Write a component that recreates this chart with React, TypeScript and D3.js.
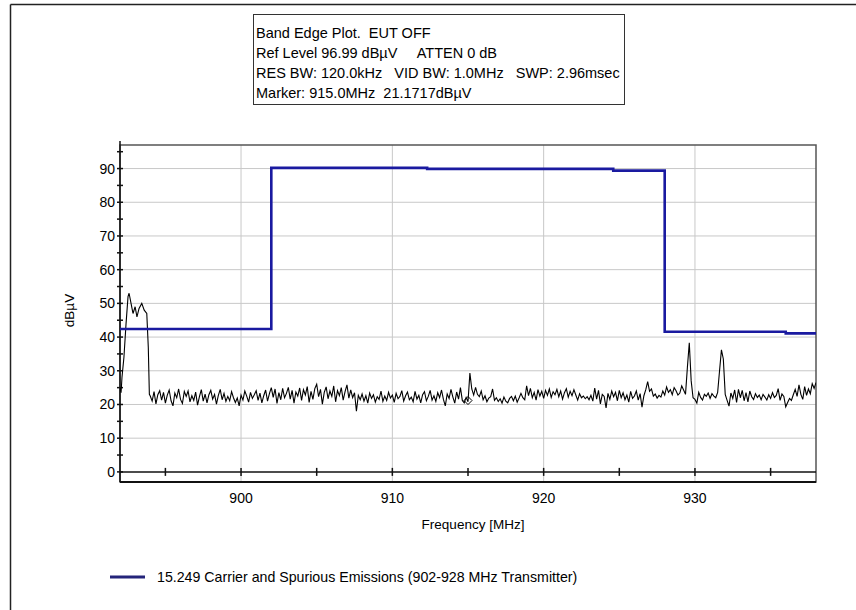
import React from 'react';
import * as d3 from 'd3';

const infoLines = [
  'Band Edge Plot.  EUT OFF',
  'Ref Level 96.99 dBµV     ATTEN 0 dB',
  'RES BW: 120.0kHz   VID BW: 1.0MHz   SWP: 2.96msec',
  'Marker: 915.0MHz  21.1717dBµV',
];

const xLabels = [900, 910, 920, 930];
const xMinor = [895, 900, 905, 910, 915, 920, 925, 930, 935];
const yLabels = [0, 10, 20, 30, 40, 50, 60, 70, 80, 90];
const yMinor = [5, 10, 15, 20, 25, 30, 35, 40, 45, 50, 55, 60, 65, 70, 75, 80, 85, 90, 95];

// limit line (step after each breakpoint)
const limitFreqs = [892, 902, 912.3, 924.6, 928, 936, 938];
const limitLevels = [42.4, 90.2, 89.9, 89.4, 41.6, 41.1, 41.1];

// start of sweep, carrier leftover below the band
const headFreqs = [892.0, 892.07, 892.13, 892.26, 892.4, 892.53, 892.6, 892.73, 892.86, 893.0, 893.12, 893.26, 893.44, 893.6, 893.77, 893.87, 893.94];
const headLevels = [25, 23.5, 28, 34, 44, 52, 53, 50, 47, 49, 46, 48.5, 50, 48, 47, 37, 23];

// rest of the sweep, one value every 0.125 MHz from 894.0
const sweepStart = 894.0;
const sweepStep = 0.125;
const sweepLevels = [
  22.5, 21.0, 23.8, 20.2, 22.9, 24.1, 21.3, 23.6, // 894
  20.4, 22.8, 24.3, 21.1, 19.6, 23.4, 22.0, 24.6, // 895
  21.5, 20.3, 23.9, 22.4, 24.0, 20.8, 22.6, 21.2, // 896
  23.7, 19.8, 22.3, 24.4, 21.0, 23.1, 20.5, 22.9, // 897
  24.2, 21.6, 23.0, 20.1, 22.7, 24.5, 21.4, 23.3, // 898
  20.9, 22.4, 21.1, 23.8, 22.0, 20.6, 21.9, 19.6, // 899
  22.8, 21.3, 24.0, 22.5, 20.7, 23.6, 21.8, 22.9, // 900
  24.1, 21.2, 23.4, 20.5, 22.6, 24.3, 21.0, 23.2, // 901
  25.0, 22.1, 24.6, 20.3, 23.5, 21.4, 24.8, 22.0, // 902
  23.3, 25.1, 21.6, 24.2, 20.4, 23.7, 22.5, 24.9, // 903
  21.2, 24.4, 22.8, 25.3, 20.6, 23.9, 21.5, 24.7, // 904
  26.0, 22.3, 24.5, 20.1, 23.6, 25.2, 21.7, 24.0, // 905
  22.4, 25.5, 20.8, 24.1, 22.6, 25.0, 21.3, 23.8, // 906
  25.8, 21.9, 24.3, 22.0, 23.5, 18.0, 22.7, 21.4, // 907
  23.1, 21.0, 22.6, 20.4, 23.4, 21.8, 22.9, 20.7, // 908
  22.3, 21.5, 24.0, 20.9, 22.5, 21.2, 23.6, 21.9, // 909
  22.8, 20.6, 23.3, 21.7, 22.4, 24.1, 21.0, 22.6, // 910
  23.7, 21.4, 22.2, 20.8, 23.9, 21.6, 22.7, 20.5, // 911
  22.9, 23.8, 21.1, 22.4, 24.2, 21.3, 22.6, 20.9, // 912
  23.5, 22.0, 24.3, 21.5, 19.6, 23.1, 21.8, 24.5, // 913
  22.2, 20.4, 23.7, 21.6, 25.0, 21.2, 20.5, 22.1, // 914
  20.8, 29.3, 24.6, 22.8, 25.1, 23.0, 22.3, 24.0, // 915
  21.4, 22.6, 20.8, 21.9, 22.3, 24.6, 21.2, 22.0, // 916
  20.9, 21.7, 20.4, 22.2, 21.0, 20.5, 21.8, 22.4, // 917
  21.1, 22.5, 20.7, 21.9, 23.3, 22.0, 21.4, 25.5, // 918
  22.6, 24.8, 22.0, 23.6, 21.3, 24.4, 22.5, 23.9, // 919
  21.8, 24.2, 22.7, 24.6, 22.1, 23.8, 22.9, 24.5, // 920
  22.3, 24.0, 21.6, 23.5, 24.7, 22.2, 23.9, 22.6, // 921
  24.4, 22.8, 21.3, 23.2, 22.0, 22.5, 21.7, 22.3, // 922
  21.4, 22.7, 21.0, 24.9, 21.6, 24.2, 20.2, 23.0, // 923
  22.4, 19.0, 23.3, 21.5, 24.0, 22.3, 23.6, 21.1, // 924
  24.2, 22.0, 23.5, 21.4, 22.8, 20.7, 23.9, 21.8, // 925
  22.5, 24.0, 21.3, 23.2, 19.2, 22.6, 24.4, 26.8, // 926
  23.9, 24.6, 22.5, 23.1, 21.9, 22.7, 22.2, 24.0, // 927
  22.8, 25.2, 23.6, 24.4, 22.9, 25.0, 24.1, 22.8, // 928
  23.4, 25.5, 24.3, 23.0, 31.0, 38.3, 27.0, 22.0, // 929
  21.5, 20.4, 23.6, 22.1, 21.3, 23.0, 22.4, 23.4, // 930
  21.8, 23.2, 22.5, 22.0, 23.6, 30.0, 36.2, 33.5, // 931
  23.0, 21.2, 19.5, 23.4, 21.8, 24.3, 20.6, 24.5, // 932
  22.0, 24.2, 21.1, 23.5, 20.8, 24.0, 22.3, 21.5, // 933
  23.2, 22.1, 22.8, 21.4, 23.0, 22.2, 21.3, 22.9, // 934
  21.8, 23.5, 22.1, 22.7, 24.7, 21.2, 23.1, 22.4, // 935
  19.3, 20.6, 21.8, 21.2, 22.9, 24.5, 22.4, 25.8, // 936
  23.0, 21.5, 25.3, 22.7, 24.6, 23.2, 26.2, 24.8, // 937
  26.5, // 938
];

const markerFreq = 915.0;
const markerLevel = 21.17;

const legendLabel = '15.249 Carrier and Spurious Emissions (902-928 MHz Transmitter)';

const W = 856;
const H = 610;
const plot = { left: 120, right: 816, top: 145, bottom: 482 };
const font = '"Liberation Sans", Arial, sans-serif';

export default function App() {
  const x = d3.scaleLinear().domain([892, 938]).range([plot.left, plot.right]);
  const y = d3.scaleLinear().domain([-3, 96.99]).range([plot.bottom, plot.top]);

  const limitPts: [number, number][] = limitFreqs.map((f, i) => [f, limitLevels[i]]);
  const tracePts: [number, number][] = [
    ...headFreqs.map((f, i) => [f, headLevels[i]] as [number, number]),
    ...sweepLevels.map((v, i) => [sweepStart + i * sweepStep, v] as [number, number]),
  ];

  const limitLine = d3
    .line<[number, number]>()
    .x(d => x(d[0]))
    .y(d => y(d[1]))
    .curve(d3.curveStepAfter);

  const traceLine = d3
    .line<[number, number]>()
    .x(d => x(d[0]))
    .y(d => y(d[1]));

  const mx = x(markerFreq);
  const my = y(markerLevel);
  const y0 = y(0);

  return (
    <svg
      width={W}
      height={H}
      style={{ position: 'absolute', left: 0, top: 0, background: '#fff' }}
      fontFamily={font}
    >
      <defs>
        <clipPath id="plotClip">
          <rect x={plot.left} y={plot.top} width={plot.right - plot.left} height={plot.bottom - plot.top} />
        </clipPath>
      </defs>

      {/* outer frame */}
      <line x1={10.5} x2={10.5} y1={4.5} y2={H} stroke="#222" strokeWidth={1.5} />
      <line x1={10.5} x2={W} y1={4.5} y2={4.5} stroke="#222" strokeWidth={1.5} />

      {/* info box */}
      <rect x={253.5} y={14.5} width={371} height={90} fill="#fff" stroke="#333" strokeWidth={1} />
      {infoLines.map((t, i) => (
        <text key={t} x={256} y={38 + i * 20} fontSize={14.5} style={{ whiteSpace: 'pre' }}>
          {t}
        </text>
      ))}

      {/* grid */}
      {yLabels.filter(v => v > 0).map(v => (
        <line key={'gy' + v} x1={plot.left} x2={plot.right} y1={y(v)} y2={y(v)} stroke="#c8c8c8" />
      ))}
      {xLabels.map(v => (
        <line key={'gx' + v} x1={x(v)} x2={x(v)} y1={plot.top} y2={plot.bottom} stroke="#c8c8c8" />
      ))}

      {/* plot border */}
      <rect x={plot.left} y={plot.top} width={plot.right - plot.left} height={plot.bottom - plot.top} fill="none" stroke="#555" strokeWidth={1.5} />
      <line x1={plot.left} x2={plot.right} y1={plot.bottom} y2={plot.bottom} stroke="#111" strokeWidth={2} />
      <line x1={plot.left} x2={plot.left} y1={plot.top - 4} y2={plot.bottom} stroke="#111" strokeWidth={1.5} />

      {/* x axis at 0 dB */}
      <line x1={plot.left} x2={plot.right} y1={y0} y2={y0} stroke="#111" strokeWidth={1.5} />
      {xMinor.map(v => (
        <line key={'tx' + v} x1={x(v)} x2={x(v)} y1={y0 - 4} y2={y0 + 4} stroke="#111" strokeWidth={1.5} />
      ))}
      {xLabels.map(v => (
        <text key={'lx' + v} x={x(v)} y={y0 + 31} fontSize={14} textAnchor="middle">
          {v}
        </text>
      ))}

      {/* y ticks */}
      {yMinor.map(v => (
        <line key={'ty' + v} x1={plot.left - 3} x2={plot.left + 3} y1={y(v)} y2={y(v)} stroke="#111" strokeWidth={1.5} />
      ))}
      <line x1={plot.left - 3} x2={plot.left + 3} y1={y0} y2={y0} stroke="#111" strokeWidth={1.5} />
      {yLabels.map(v => (
        <text key={'ly' + v} x={plot.left - 5} y={y(v) + 5} fontSize={14} textAnchor="end">
          {v}
        </text>
      ))}

      {/* axis titles */}
      <text x={473} y={529} fontSize={13.5} textAnchor="middle">
        Frequency [MHz]
      </text>
      <text transform={`translate(74,${(plot.top + plot.bottom) / 2 - 3}) rotate(-90)`} fontSize={13.5} textAnchor="middle">
        dBµV
      </text>

      {/* series */}
      <g clipPath="url(#plotClip)">
        <path d={traceLine(tracePts) ?? ''} fill="none" stroke="#000" strokeWidth={1.1} />
        <path d={limitLine(limitPts) ?? ''} fill="none" stroke="#1a1aa0" strokeWidth={2.6} />
        <path
          d={`M${mx - 4},${my} L${mx},${my - 4} L${mx + 4},${my} L${mx},${my + 4} Z`}
          fill="none"
          stroke="#000"
          strokeWidth={1}
        />
      </g>

      {/* legend */}
      <line x1={110} x2={145} y1={577} y2={577} stroke="#24247a" strokeWidth={3} />
      <text x={157} y={582} fontSize={14.2}>
        {legendLabel}
      </text>
    </svg>
  );
}
